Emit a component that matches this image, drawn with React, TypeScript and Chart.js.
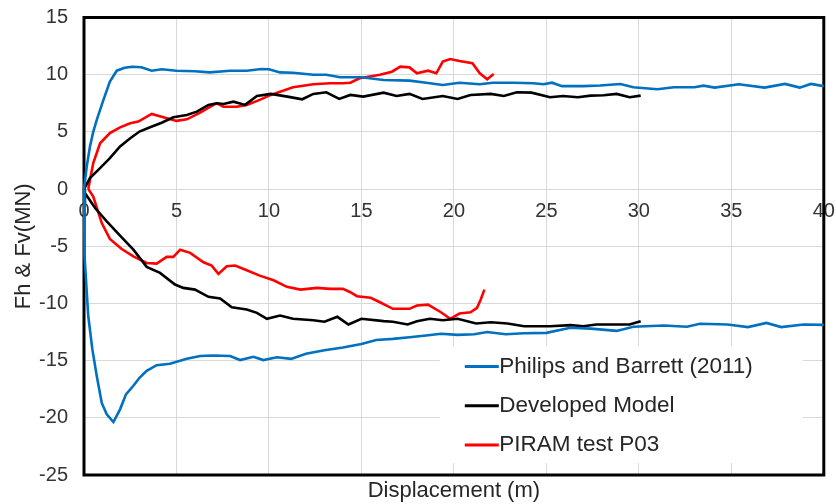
import React, { useEffect, useRef } from 'react';
import { Chart, registerables } from 'chart.js';

Chart.register(...registerables);

const FONT = '"Liberation Sans", Arial, Helvetica, sans-serif';

// ---- Data (displacement m, force MN) ----
const philipsUpperX = [0, 0.15, 0.32, 0.5, 0.69, 1.05, 1.4, 1.77, 2.2, 2.6, 3.1, 3.66, 4.2, 5.0, 6.0, 6.8, 7.9, 8.8, 9.6, 10.0, 10.6, 11.3, 12.4, 13.1, 13.85, 15.0, 16.2, 17.6, 18.5, 19.4, 20.3, 21.4, 22.1, 23.2, 24.3, 24.85, 25.3, 25.85, 27.0, 27.9, 29.0, 29.7, 31.0, 31.9, 33.0, 33.5, 34.1, 35.4, 36.8, 37.9, 38.7, 39.3, 40];
const philipsUpperY = [0, 2.0, 3.7, 5.0, 6.05, 7.8, 9.4, 10.35, 10.6, 10.7, 10.65, 10.35, 10.47, 10.35, 10.3, 10.2, 10.35, 10.35, 10.5, 10.47, 10.2, 10.17, 10.0, 10.0, 9.77, 9.77, 9.54, 9.48, 9.3, 9.1, 9.3, 9.16, 9.3, 9.3, 9.25, 9.16, 9.3, 9.0, 9.0, 9.05, 9.19, 8.9, 8.73, 8.9, 8.9, 9.04, 8.87, 9.16, 8.87, 9.19, 8.87, 9.19, 9.0];

const philipsLowerX = [0, 0.03, 0.23, 0.45, 0.69, 0.96, 1.23, 1.59, 1.95, 2.27, 2.67, 3.0, 3.39, 3.93, 4.65, 5.56, 6.28, 7.0, 7.9, 8.44, 9.16, 9.7, 10.43, 11.2, 12.0, 13.0, 14.0, 15.0, 15.8, 16.7, 17.6, 18.5, 19.3, 20.2, 21.1, 21.8, 22.8, 23.8, 25.0, 26.3, 27.4, 28.8, 29.7, 31.35, 32.6, 33.3, 34.8, 35.9, 36.9, 37.7, 38.9, 40];
const philipsLowerY = [0, -5.9, -11.1, -14.0, -16.35, -18.7, -19.7, -20.37, -19.26, -17.95, -17.2, -16.5, -15.9, -15.4, -15.27, -14.83, -14.6, -14.55, -14.6, -14.95, -14.66, -14.95, -14.7, -14.85, -14.4, -14.1, -13.85, -13.55, -13.2, -13.1, -12.95, -12.8, -12.65, -12.75, -12.7, -12.5, -12.7, -12.6, -12.57, -12.13, -12.2, -12.4, -12.04, -11.93, -12.04, -11.78, -11.84, -12.07, -11.7, -12.07, -11.84, -11.87];

const modelUpperX = [0, 0.32, 0.87, 1.4, 1.95, 2.5, 3.0, 3.57, 4.2, 4.83, 5.56, 6.1, 6.73, 7.18, 7.54, 8.08, 8.71, 9.35, 10.1, 11.0, 11.8, 12.4, 13.1, 13.8, 14.4, 15.1, 16.2, 16.9, 17.6, 18.3, 19.4, 20.2, 20.9, 22.0, 22.7, 23.4, 24.2, 25.2, 25.9, 26.7, 27.4, 28.1, 28.8, 29.5, 30.1];
const modelUpperY = [0, 0.96, 1.83, 2.7, 3.72, 4.45, 5.03, 5.4, 5.8, 6.28, 6.48, 6.77, 7.36, 7.5, 7.44, 7.64, 7.36, 8.14, 8.32, 8.08, 7.85, 8.32, 8.46, 7.88, 8.23, 8.08, 8.43, 8.14, 8.32, 7.88, 8.14, 7.88, 8.23, 8.32, 8.14, 8.46, 8.43, 8.03, 8.14, 8.03, 8.17, 8.2, 8.32, 8.03, 8.17];

const modelLowerX = [0, 0.05, 0.6, 1.23, 1.95, 2.67, 3.39, 4.11, 4.92, 5.37, 6.0, 6.73, 7.36, 7.99, 8.8, 9.35, 9.89, 10.6, 11.3, 12.4, 13.0, 13.7, 14.3, 15.0, 16.2, 16.7, 17.5, 18.0, 18.7, 19.4, 20.2, 21.2, 22.0, 22.9, 23.8, 25.2, 26.3, 27.0, 27.7, 29.5, 30.1];
const modelLowerY = [0, -0.35, -1.66, -2.83, -4.07, -5.3, -6.8, -7.33, -8.35, -8.64, -8.79, -9.42, -9.57, -10.33, -10.53, -10.82, -11.34, -11.06, -11.34, -11.47, -11.6, -11.17, -11.84, -11.34, -11.55, -11.6, -11.84, -11.55, -11.34, -11.47, -11.34, -11.75, -11.64, -11.75, -11.99, -11.99, -11.9, -11.99, -11.84, -11.84, -11.55];

const piramUpperX = [0.23, 0.5, 0.87, 1.4, 1.95, 2.5, 2.94, 3.66, 4.29, 5.0, 5.56, 6.28, 7.0, 7.18, 7.54, 8.26, 8.8, 9.5, 10.1, 11.3, 12.4, 13.3, 14.0, 14.4, 14.9, 16.0, 16.65, 17.1, 17.6, 18.0, 18.6, 19.05, 19.4, 19.8, 20.3, 21.0, 21.4, 21.8, 22.15];
const piramUpperY = [0, 2.27, 4.0, 4.9, 5.4, 5.76, 5.9, 6.57, 6.28, 5.96, 6.1, 6.68, 7.36, 7.5, 7.2, 7.2, 7.36, 7.8, 8.23, 8.9, 9.16, 9.25, 9.25, 9.3, 9.69, 10.0, 10.26, 10.7, 10.64, 10.12, 10.35, 10.12, 11.14, 11.37, 11.2, 11.0, 10.12, 9.6, 10.06];

const piramLowerX = [0.23, 0.5, 0.96, 1.4, 2.04, 2.67, 3.39, 3.93, 4.47, 4.83, 5.2, 5.74, 6.46, 6.9, 7.27, 7.72, 8.17, 8.8, 9.5, 10.25, 10.97, 11.7, 12.6, 13.3, 14.0, 14.4, 14.76, 15.5, 16.0, 16.7, 17.6, 18.0, 18.6, 19.3, 19.8, 20.3, 20.9, 21.25, 21.45, 21.65];
const piramLowerY = [0, -0.65, -2.97, -4.36, -5.24, -5.88, -6.46, -6.52, -5.93, -5.93, -5.3, -5.58, -6.4, -6.69, -7.42, -6.75, -6.69, -7.1, -7.57, -7.97, -8.55, -8.79, -8.64, -8.73, -8.73, -9.02, -9.37, -9.51, -9.9, -10.47, -10.47, -10.18, -10.1, -10.77, -11.34, -10.88, -10.77, -10.38, -9.66, -8.79];

const seriesLabels = ['Philips and Barrett (2011)', 'Developed Model', 'PIRAM test P03'];
const seriesColors = ['#0070C0', '#000000', '#FF0000'];

const xTicks = { min: 0, max: 40, step: 5 };
const yTicks = { min: -25, max: 15, step: 5 };

const pts = (xs: number[], ys: number[]) => xs.map((x, i) => ({ x, y: ys[i] }));

const framePlugin = {
  id: 'frame',
  beforeDatasetsDraw(chart: any) {
    const { ctx, chartArea } = chart;
    ctx.save();
    ctx.strokeStyle = '#000000';
    ctx.lineWidth = 3;
    ctx.strokeRect(chartArea.left, chartArea.top, chartArea.right - chartArea.left, chartArea.bottom - chartArea.top);
    ctx.restore();
  },
};

const legendPlugin = {
  id: 'insideLegend',
  afterDatasetsDraw(chart: any) {
    const { ctx, chartArea } = chart;
    const boxLeft = chartArea.right - 384;
    const boxRight = chartArea.right - 21;
    const boxTop = chartArea.bottom - 129;
    const boxBottom = chartArea.bottom - 12;
    ctx.save();
    ctx.fillStyle = '#ffffff';
    ctx.fillRect(boxLeft, boxTop, boxRight - boxLeft, boxBottom - boxTop);
    const entries = chart.data.datasets.filter((d: any) => d.inLegend);
    const lineX0 = chartArea.right - 359;
    const rowY0 = chartArea.bottom - 108.5;
    ctx.font = `22.5px ${FONT}`;
    ctx.textBaseline = 'middle';
    ctx.textAlign = 'left';
    entries.forEach((d: any, i: number) => {
      const y = rowY0 + i * 39.3;
      ctx.strokeStyle = d.borderColor;
      ctx.lineWidth = 3;
      ctx.beginPath();
      ctx.moveTo(lineX0, y);
      ctx.lineTo(lineX0 + 34, y);
      ctx.stroke();
      ctx.fillStyle = '#262626';
      ctx.fillText(d.label, lineX0 + 34.5, y);
    });
    ctx.restore();
  },
};

export default function App() {
  const canvasRef = useRef<HTMLCanvasElement | null>(null);

  useEffect(() => {
    if (!canvasRef.current) return;
    const mk = (label: string, color: string, data: any[], inLegend: boolean) => ({
      label,
      data,
      borderColor: color,
      backgroundColor: color,
      borderWidth: 2.6,
      pointRadius: 0,
      tension: 0,
      fill: false,
      clip: 4,
      inLegend,
    });
    const noPad = (scale: any) => {
      scale.paddingTop = 0;
      scale.paddingBottom = 0;
      scale.paddingLeft = 0;
      scale.paddingRight = 0;
    };
    const chart = new Chart(canvasRef.current, {
      type: 'line',
      data: {
        datasets: [
          mk(seriesLabels[0], seriesColors[0], pts(philipsUpperX, philipsUpperY), true),
          mk(seriesLabels[1], seriesColors[1], pts(modelUpperX, modelUpperY), true),
          mk(seriesLabels[2], seriesColors[2], pts(piramUpperX, piramUpperY), true),
          mk(seriesLabels[0], seriesColors[0], pts(philipsLowerX, philipsLowerY), false),
          mk(seriesLabels[1], seriesColors[1], pts(modelLowerX, modelLowerY), false),
          mk(seriesLabels[2], seriesColors[2], pts(piramLowerX, piramLowerY), false),
        ] as any,
      },
      options: {
        animation: false,
        responsive: false,
        maintainAspectRatio: false,
        parsing: false as any,
        layout: { padding: { top: 17.5, right: 12.2, left: 0, bottom: 0 } },
        plugins: {
          legend: { display: false },
          tooltip: { enabled: false },
          title: { display: false },
        },
        scales: {
          x: {
            type: 'linear',
            position: 'bottom',
            min: xTicks.min,
            max: xTicks.max,
            ticks: { display: false, stepSize: xTicks.step },
            grid: { color: '#d9d9d9', lineWidth: 1, drawTicks: false },
            border: { display: false },
            title: {
              display: true,
              text: 'Displacement (m)',
              color: '#262626',
              font: { family: FONT, size: 22 },
              padding: { top: 0, bottom: 0 },
            },
            afterFit: (scale: any) => { scale.height = 29; noPad(scale); },
          },
          x2: {
            type: 'linear',
            position: { y: 0 } as any,
            min: xTicks.min,
            max: xTicks.max,
            ticks: {
              stepSize: xTicks.step,
              color: '#333333',
              font: { family: FONT, size: 20 },
              padding: 10,
              maxRotation: 0,
            },
            grid: { display: false, drawTicks: false },
            border: { display: false },
            afterFit: (scale: any) => { noPad(scale); },
          },
          y: {
            type: 'linear',
            position: 'left',
            min: yTicks.min,
            max: yTicks.max,
            ticks: {
              stepSize: yTicks.step,
              color: '#333333',
              font: { family: FONT, size: 20 },
              padding: 16,
            },
            grid: { color: '#d9d9d9', lineWidth: 1, drawTicks: false },
            border: { display: false },
            title: {
              display: true,
              text: 'Fh & Fv(MN)',
              color: '#262626',
              font: { family: FONT, size: 22 },
              padding: { top: 11, bottom: 0 },
            },
            afterFit: (scale: any) => { scale.width = 84; noPad(scale); },
          },
        },
      } as any,
      plugins: [framePlugin, legendPlugin],
    });
    return () => chart.destroy();
  }, []);

  return (
    <div style={{ position: 'fixed', left: 0, top: 0, width: 836, height: 504, background: '#ffffff' }}>
      <canvas ref={canvasRef} width={836} height={504} style={{ width: 836, height: 504, display: 'block' }} />
    </div>
  );
}
